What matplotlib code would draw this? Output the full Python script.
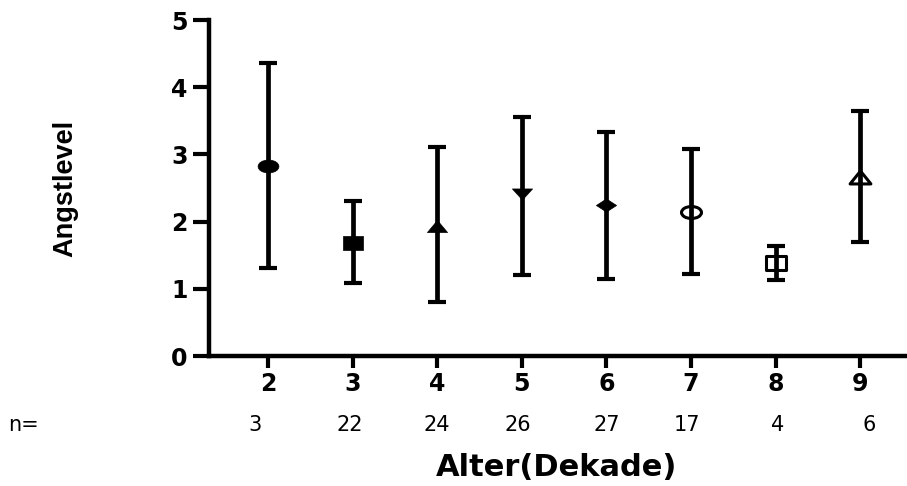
import numpy as np
import matplotlib
matplotlib.use("Agg")
import matplotlib.pyplot as plt
from matplotlib.path import Path
from matplotlib import font_manager

# data (mean with SD bar ends)
decades = [2, 3, 4, 5, 6, 7, 8, 9]
means = [2.83, 1.68, 1.94, 2.41, 2.24, 2.15, 1.39, 2.66]
upper = [4.36, 2.30, 3.11, 3.56, 3.33, 3.08, 1.63, 3.65]
lower = [1.31, 1.08, 0.81, 1.21, 1.15, 1.22, 1.13, 1.69]
n_counts = ["3", "22", "24", "26", "27", "17", "4", "6"]
y_ticks = [0, 1, 2, 3, 4, 5]


def ellipse(aspect):
    c = Path.unit_circle()
    return Path(c.vertices * [1.0, aspect], c.codes)


def poly(pts):
    pts = np.asarray(pts, dtype=float)
    return Path(np.vstack([pts, pts[:1]]), closed=True)


def tri_up(a):
    return poly([(-1, -a), (1, -a), (0, a)])


def tri_down(a):
    return poly([(-1, a), (1, a), (0, -a)])


def rect(a):
    return poly([(-1, -a), (1, -a), (1, a), (-1, a)])


def diamond(a):
    return poly([(-1, 0), (0, -a), (1, 0), (0, a)])


# marker per group: (path, size pt, filled)
styles = [
    (ellipse(0.62), 15.0, True),
    (rect(0.70), 14.5, True),
    (tri_up(0.60), 14.5, True),
    (tri_down(0.55), 14.5, True),
    (diamond(0.65), 14.5, True),
    (ellipse(0.60), 14.4, False),
    (rect(0.70), 14.4, False),
    (tri_up(0.62), 15.0, False),
]

names = {f.name for f in font_manager.fontManager.ttflist}
if "Liberation Sans Narrow" in names:
    ylab_font, ylab_size = "Liberation Sans Narrow", 23.5
else:
    ylab_font, ylab_size = "Liberation Sans", 19.5

fig = plt.figure(figsize=(9.07, 4.86), dpi=100)
ax = fig.add_axes([209 / 907, 130 / 486, 696 / 907, 336 / 486])

for i, x in enumerate(decades):
    path, ms, filled = styles[i]
    m = means[i]
    ax.errorbar([x], [m], yerr=[[m - lower[i]], [upper[i] - m]],
                fmt="none", ecolor="black", elinewidth=3.4,
                capsize=6.5, capthick=3.0, zorder=2)
    ax.plot([x], [m], linestyle="none", marker=path, markersize=ms,
            markerfacecolor="black" if filled else "none",
            markeredgecolor="black", markeredgewidth=0.5 if filled else 2.2,
            zorder=3)

ax.set_xlim(1.302, 9.53)
ax.set_ylim(0, 5)
ax.set_xticks(decades)
ax.set_yticks(y_ticks)
ax.set_xticklabels([str(d) for d in decades], fontfamily="DejaVu Sans",
                   fontweight="bold", fontsize=17)
ax.set_yticklabels([str(t) for t in y_ticks], fontfamily="DejaVu Sans",
                   fontweight="bold", fontsize=17)
for side in ("top", "right"):
    ax.spines[side].set_visible(False)
for side in ("left", "bottom"):
    ax.spines[side].set_linewidth(3.2)
    ax.spines[side].set_capstyle("projecting")
ax.tick_params(axis="x", length=8.6, width=3.0, pad=3)
ax.tick_params(axis="y", length=11.5, width=3.0, pad=4)

# n row under the tick labels
n_offsets = [-13, -3, 0, -4, 0, -4, 2, 9]
for x, n, dx in zip(decades, n_counts, n_offsets):
    px = ax.transData.transform((x, 0))[0] + dx
    fig.text(px / 907, 1 - 425 / 486, n, ha="center", va="center",
             fontfamily="DejaVu Sans", fontsize=15)
fig.text(8 / 907, 1 - 425 / 486, "n=", ha="left", va="center",
         fontfamily="DejaVu Sans", fontsize=15)

fig.text(557 / 907, 1 - 467 / 486, "Alter(Dekade)", ha="center", va="center",
         fontfamily="DejaVu Sans", fontweight="bold", fontsize=22)
fig.text(65 / 907, 1 - 188 / 486, "Angstlevel", ha="center", va="center",
         rotation=90, fontfamily=ylab_font, fontweight="bold",
         fontsize=ylab_size)

fig.savefig("out.png", dpi=100)
